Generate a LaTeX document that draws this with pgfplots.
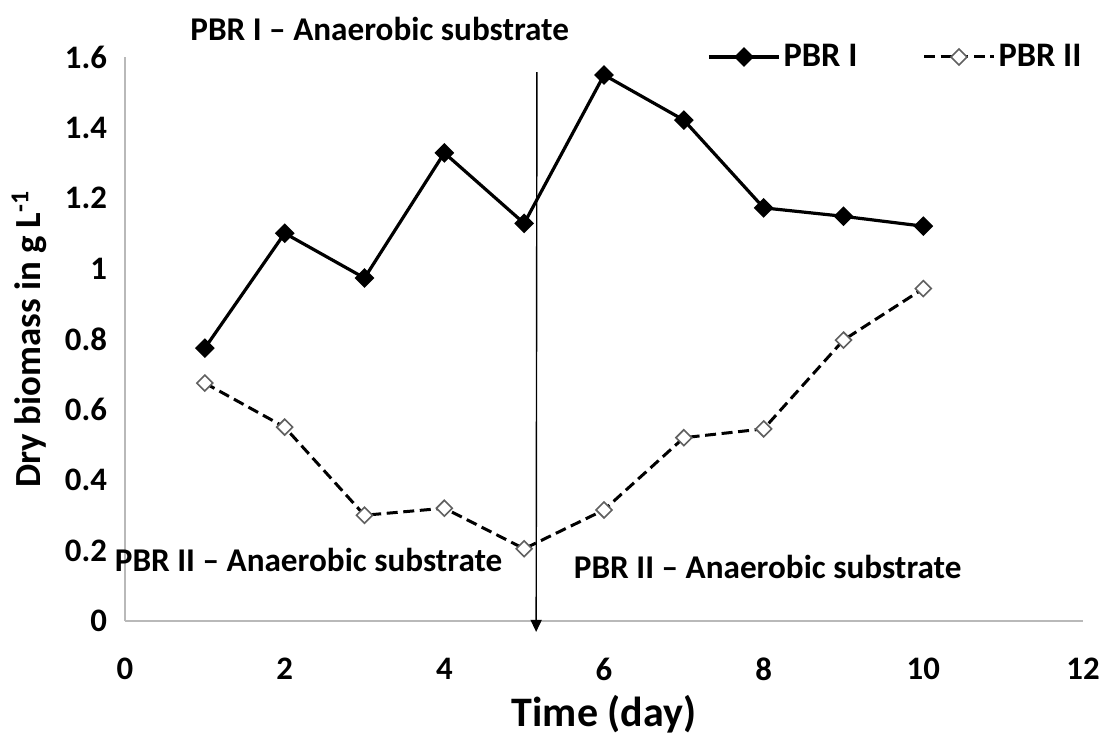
\documentclass[border=0pt]{standalone}
\usepackage{fontspec}
\setmainfont{Carlito}
\usepackage{pgfplots}
\pgfplotsset{compat=1.18}
\usetikzlibrary{arrows.meta}
\begin{document}
\begin{tikzpicture}
\begin{axis}[
  scale only axis,
  width=479pt, height=282pt,
  xmin=0, xmax=12, ymin=0, ymax=1.6,
  xtick={0,2,...,12},
  ytick={0,0.2,...,1.6},
  yticklabels={0,0.2,0.4,0.6,0.8,1,1.2,1.4,1.6},
  axis lines=left,
  axis line style={draw=gray!55, line width=0.8pt, -},
  major tick length=0pt,
  clip=false,
  /pgf/number format/assume math mode=true,
  tick label style={font=\fontsize{16.4}{19}\selectfont\bfseries},
  yticklabel style={xshift=-5.5pt},
  xticklabel style={yshift=-15pt},
  xlabel={Time (day)},
  ylabel={Dry biomass in g L\textsuperscript{-1}},
  xlabel style={font=\fontsize{21}{24}\selectfont\bfseries, yshift=-0.5pt},
  ylabel style={font=\fontsize{18.4}{22}\selectfont\bfseries, yshift=2pt},
  legend columns=2,
  legend style={draw=none, fill=none, at={(axis cs:7.29,1.6)}, anchor=west,
    font=\fontsize{17.2}{20}\selectfont\bfseries, inner sep=0pt,
    nodes={inner sep=1.5pt},
    /tikz/every even column/.append style={column sep=31pt}},
  legend image code/.code={\draw[mark repeat=2,mark phase=2,#1] plot coordinates {(0pt,0pt) (17.5pt,0pt) (35pt,0pt)};},
]
\addplot[black, line width=1.6pt, mark=square*, mark size=2.7pt, mark options={solid, fill=black, rotate=45}]
coordinates {(1,0.774) (2,1.10) (3,0.973) (4,1.328) (5,1.128) (6,1.549) (7,1.421) (8,1.172) (9,1.148) (10,1.12)};
\addlegendentry{PBR I}
\addplot[black, line width=1.5pt, dash pattern=on 5.5pt off 2.8pt, mark=square*, mark size=2.8pt, mark options={solid, fill=white, draw=gray!75!black, line width=0.8pt, rotate=45}]
coordinates {(1,0.675) (2,0.55) (3,0.30) (4,0.32) (5,0.205) (6,0.315) (7,0.52) (8,0.545) (9,0.797) (10,0.943)};
\addlegendentry{PBR II}
\draw[black, line width=0.7pt, -{Triangle[length=6pt,width=5.5pt]}] (axis cs:5.16,1.557) -- (axis cs:5.15,-0.031);
\node[font=\fontsize{16.6}{19}\selectfont\bfseries] at (axis cs:3.19,1.68) {PBR I -- Anaerobic substrate};
\node[font=\fontsize{16.6}{19}\selectfont\bfseries] at (axis cs:2.30,0.173) {PBR II -- Anaerobic substrate};
\node[font=\fontsize{16.6}{19}\selectfont\bfseries] at (axis cs:8.05,0.153) {PBR II -- Anaerobic substrate};
\coordinate (ll) at (rel axis cs:0,0);
\coordinate (ur) at (rel axis cs:1,1);
\end{axis}
\pgfresetboundingbox
\path[use as bounding box] ([xshift=-62.5pt,yshift=-58.5pt]ll) rectangle ([xshift=11pt,yshift=28.5pt]ur);
\end{tikzpicture}
\end{document}
